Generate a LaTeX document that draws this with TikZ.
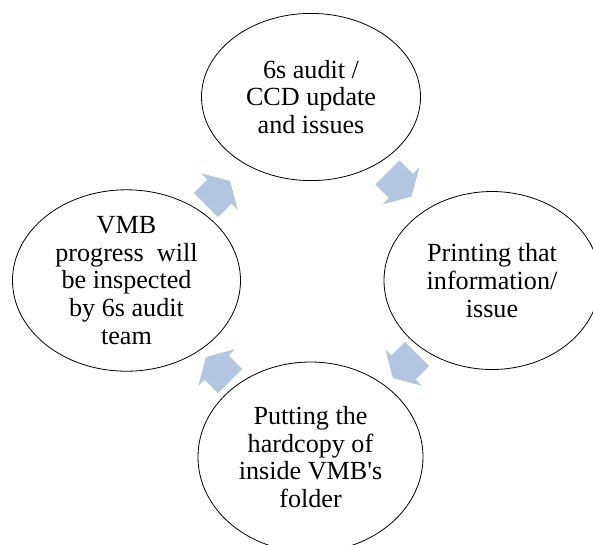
\documentclass[tikz,border=0pt]{standalone}
\usepackage{fontspec}
\setmainfont{Liberation Serif}
\usetikzlibrary{shapes.geometric}
\definecolor{cyclefill}{RGB}{180,197,225}
\tikzset{
	phase/.style={
		ellipse, draw, line width=0.6pt,
		inner sep=0pt, align=center,
	},
	cyclearrow/.pic={
		\fill[cyclefill] (-17,-17) -- (2,-17) -- (2,-26) -- (17,0)
			-- (2,26) -- (2,17) -- (-17,17) -- cycle;
	}
}

\begin{document}
\begin{tikzpicture}[x=0.75pt, y=-0.75pt, font=\fontsize{19.6}{20.8}\selectfont]
	\useasboundingbox (0,0) rectangle (593,544);

	\node [phase, minimum width=164.25pt, minimum height=125.4pt] (audit) at (311,97) {6s audit /\\CCD update\\and issues};
	\node [phase, minimum width=162pt, minimum height=133.5pt] (print) at (492,280.5) {Printing that\\information/\\issue};
	\node [phase, minimum width=168.75pt, minimum height=142.5pt] (folder) at (310.5,457) {Putting the\\hardcopy of\\inside VMB\textquotesingle s\\folder};
	\node [phase, minimum width=171pt, minimum height=131.1pt] (inspect) at (126.5,280.5) {VMB\\progress\enspace will\\be inspected\\by 6s audit\\team};

	% arrows of the cycle
	\pic [rotate=-45] (toprint) at (399.5,184.5) {cyclearrow};
	\pic [rotate=-135] (tofolder) at (405,366) {cyclearrow};
	\pic [rotate=135] (toinspect) at (218,369) {cyclearrow};
	\pic [rotate=45] (toaudit) at (218,193) {cyclearrow};
\end{tikzpicture}
\end{document}
